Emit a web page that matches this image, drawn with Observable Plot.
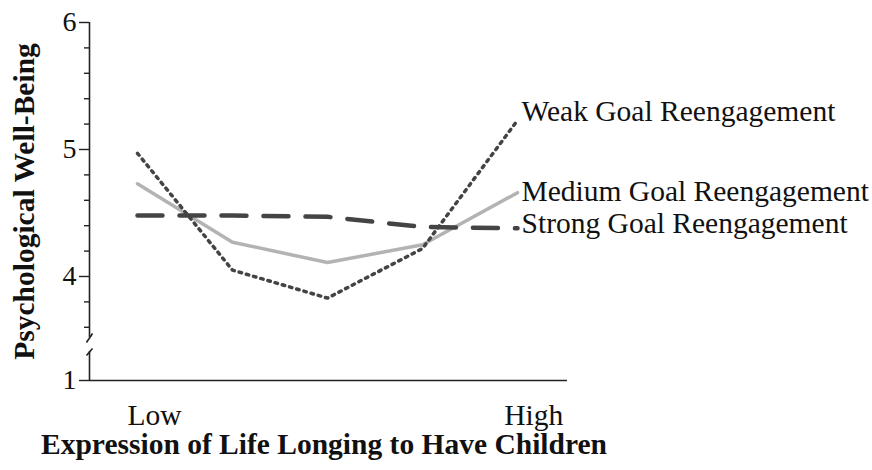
<!DOCTYPE html>
<html>
<head>
<meta charset="utf-8">
<script src="https://cdn.jsdelivr.net/npm/d3@7"></script>
<script src="https://cdn.jsdelivr.net/npm/@observablehq/plot@0.6"></script>
<style>
  html, body { margin: 0; padding: 0; background: #fff; }
</style>
</head>
<body>
<div id="chart"></div>
<script>
// ---- data ----
const xLevels = [0, 1, 2, 3, 4];            // five points from Low to High
const seriesNames = ["Weak Goal Reengagement", "Medium Goal Reengagement", "Strong Goal Reengagement"];
const weakValues   = [4.97, 4.05, 3.83, 4.22, 5.23];
const mediumValues = [4.73, 4.27, 4.11, 4.25, 4.66];
const strongValues = [4.48, 4.48, 4.47, 4.39, 4.38];
const xTickValues = [0.18, 4.17];
const xTickLabels = ["Low", "High"];
const yMajorTicks = [6, 5, 4];
const yMinorTicks = [5.8, 5.6, 5.4, 5.2, 4.8, 4.6, 4.4, 4.2, 3.8, 3.6];
const yBreakValue = 3.181;                   // where the "1" (after the axis break) sits
const yBreakLabel = "1";
const xTitle = "Expression of Life Longing to Have Children";
const yTitle = "Psychological Well-Being";

// ---- build table ----
const valuesBySeries = [weakValues, mediumValues, strongValues];
const rows = [];
seriesNames.forEach((s, k) => xLevels.forEach((x, i) => rows.push({series: s, x, y: valuesBySeries[k][i]})));
const bySeries = s => rows.filter(d => d.series === s);
const lastOf = s => bySeries(s).slice(-1);

const xDomain = [-0.505, 4.526];
const x0 = xDomain[0];
const font = "'Liberation Serif', 'Times New Roman', serif";
const fs = 29.5;

const chart = Plot.plot({
  width: 872,
  height: 470,
  marginLeft: 89,
  marginRight: 305,
  marginTop: 22,
  marginBottom: 90,
  style: {fontFamily: font, fontSize: fs + "px", background: "#fff", color: "#111"},
  x: {domain: xDomain},
  y: {domain: [yBreakValue, 6]},
  marks: [
    // y axis line with break
    Plot.ruleX([{y1: 6, y2: 3.52}, {y1: 3.41, y2: yBreakValue}], {x: () => x0, y1: "y1", y2: "y2", stroke: "#222", strokeWidth: 1.6}),
    Plot.link([{x1: x0 + 0.032, y1: 3.551, x2: x0 - 0.032, y2: 3.480},
               {x1: x0 - 0.032, y1: 3.378, x2: x0 + 0.032, y2: 3.433}],
              {x1: "x1", y1: "y1", x2: "x2", y2: "y2", stroke: "#222", strokeWidth: 1.6}),
    // x axis line
    Plot.ruleY([yBreakValue], {stroke: "#222", strokeWidth: 1.6}),
    // y ticks
    Plot.axisY({ticks: [...yMajorTicks, yBreakValue], tickSize: 10, tickPadding: 3,
      tickFormat: d => d === yBreakValue ? yBreakLabel : String(d),
      fontSize: 28, stroke: "#222", strokeWidth: 1.4, label: null, fill: "#111"}),
    Plot.axisY({ticks: yMinorTicks, tickSize: 5, text: null, label: null, stroke: "#222", strokeWidth: 1.4}),
    // x tick labels
    Plot.axisX({ticks: xTickValues, tickSize: 0, tickPadding: 24,
      tickFormat: d => xTickLabels[xTickValues.indexOf(d)], fontSize: fs, label: null, fill: "#111"}),
    // lines
    Plot.line(bySeries(seriesNames[1]), {x: "x", y: "y", stroke: "#b3b3b3", strokeWidth: 3.5}),
    Plot.line(bySeries(seriesNames[0]), {x: "x", y: "y", stroke: "#444", strokeWidth: 3.5, strokeDasharray: "2.5,5"}),
    Plot.line(bySeries(seriesNames[2]), {x: "x", y: "y", stroke: "#444", strokeWidth: 4.5, strokeDasharray: "25,17"}),
    // series labels
    Plot.text(lastOf(seriesNames[0]), {x: "x", y: "y", text: "series", textAnchor: "start", dx: 4, dy: -9, fontSize: fs, fill: "#111"}),
    Plot.text(lastOf(seriesNames[1]), {x: "x", y: "y", text: "series", textAnchor: "start", dx: 4, dy: -1, fontSize: fs, fill: "#111"}),
    Plot.text(lastOf(seriesNames[2]), {x: "x", y: "y", text: "series", textAnchor: "start", dx: 4, dy: -5, fontSize: fs, fill: "#111"}),
    // axis titles
    Plot.text([yTitle], {frameAnchor: "left", textAnchor: "middle", text: d => d, rotate: -90, dx: -64.5, fontSize: fs, fontWeight: "bold", fill: "#111"}),
    Plot.text([xTitle], {frameAnchor: "bottom", textAnchor: "middle", text: d => d, dx: -4.5, dy: 73.7, fontSize: fs, fontWeight: "bold", fill: "#111"})
  ]
});
document.getElementById("chart").appendChild(chart);
</script>
</body>
</html>
